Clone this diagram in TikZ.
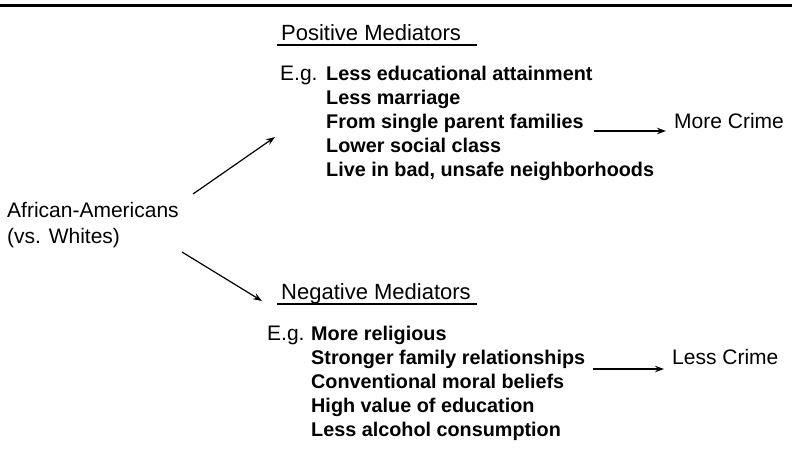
\documentclass[tikz,border=0pt]{standalone}
\usepackage{fontspec}
\setmainfont{Liberation Sans}
\usepackage{tikz}
\usetikzlibrary{arrows.meta, positioning}
\tikzset{>=stealth}
\tikzset{
	txt/.style={anchor=base west, inner sep=0pt, font=\fontsize{21}{24}\selectfont},
	head/.style={anchor=base west, inner sep=0pt, font=\fontsize{22}{25}\selectfont},
	item/.style={anchor=base west, inner sep=0pt, font=\fontsize{19.8}{24}\selectfont\bfseries},
	arr/.style={->, line width=1.2pt, >={Stealth[length=9pt, width=6.5pt]}},
}

\begin{document}
\begin{tikzpicture}[x=1pt, y=-1pt]
	\useasboundingbox (0,0) rectangle (792,456);
	\draw [line width=3pt] (0,5) -- (792,5);

	\node [txt] (afam) at (7,217) {African-Americans};
	\node [txt] (whites) at (7,243) {(vs. Whites)};

	\node [head] (posmed) at (281,40) {Positive Mediators};
	\draw [line width=1.2pt] (277,45) -- (477,45);
	\node [txt] (poseg) at (280,80) {E.g.};
	\node [item] (educ) at (326,80) {Less educational attainment};
	\node [item] (marr) at (326,104) {Less marriage};
	\node [item] (single) at (326,128) {From single parent families};
	\node [item] (lower) at (326,152) {Lower social class};
	\node [item] (unsafe) at (326,176) {Live in bad, unsafe neighborhoods};
	\node [txt] (morecrime) at (674,128) {More Crime};

	\node [head] (negmed) at (281,299) {Negative Mediators};
	\draw [line width=1.2pt] (277,304) -- (477,304);
	\node [txt] (negeg) at (267,340) {E.g.};
	\node [item] (relig) at (311,340) {More religious};
	\node [item] (family) at (311,364) {Stronger family relationships};
	\node [item] (moral) at (311,388) {Conventional moral beliefs};
	\node [item] (value) at (311,412) {High value of education};
	\node [item] (alcohol) at (311,436) {Less alcohol consumption};
	\node [txt] (lesscrime) at (672,364) {Less Crime};

	\coordinate (uptail) at (193,194);
	\coordinate (uptip) at (275,137);
	\coordinate (downtail) at (182,252);
	\coordinate (downtip) at (262,301);
	\draw [arr] (uptail) -- (uptip);
	\draw [arr] (downtail) -- (downtip);

	\draw [arr] ([shift={(10,3)}]single.base east) -- ([shift={(-8,3)}]morecrime.base west);
	\draw [arr] ([shift={(8,5)}]family.base east) -- ([shift={(-8,5)}]lesscrime.base west);
\end{tikzpicture}
\end{document}
